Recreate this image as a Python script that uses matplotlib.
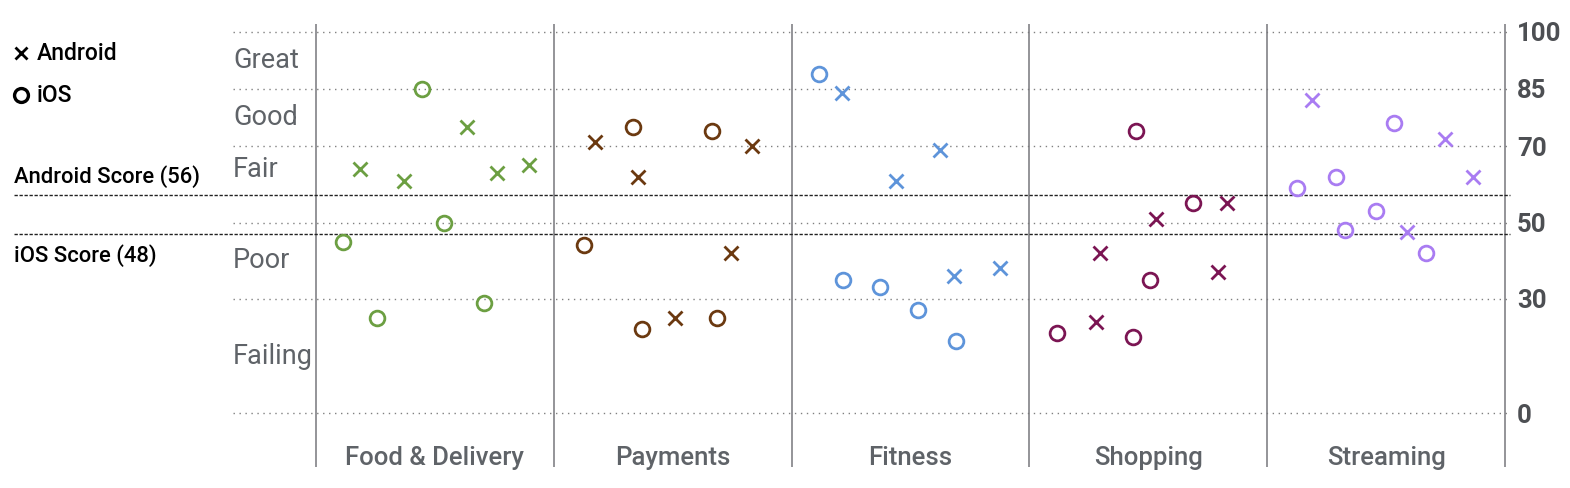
import matplotlib
matplotlib.use("Agg")
import matplotlib.pyplot as plt

plt.rcParams['font.family'] = ['Roboto', 'DejaVu Sans']

categories = ["Food & Delivery", "Payments", "Fitness", "Shopping", "Streaming"]
colors = ["#6c9f42", "#6b3910", "#5e94da", "#7b1553", "#a97cf2"]

# per category: platform, score, and horizontal slot inside the column (0..1)
food_platform = ["iOS", "Android", "iOS", "Android", "iOS", "iOS", "Android", "iOS", "Android", "Android"]
food_score = [45, 64, 25, 61, 85, 50, 75, 29, 63, 65]
food_slot = [0.112, 0.185, 0.257, 0.371, 0.446, 0.538, 0.635, 0.705, 0.760, 0.897]

pay_platform = ["iOS", "Android", "iOS", "Android", "iOS", "Android", "iOS", "iOS", "Android", "Android"]
pay_score = [44, 71, 75, 62, 22, 25, 74, 25, 42, 70]
pay_slot = [0.126, 0.175, 0.335, 0.355, 0.372, 0.509, 0.667, 0.688, 0.746, 0.834]

fit_platform = ["iOS", "Android", "iOS", "iOS", "Android", "iOS", "Android", "Android", "iOS", "Android"]
fit_score = [89, 84, 35, 33, 61, 27, 69, 36, 19, 38]
fit_slot = [0.115, 0.214, 0.217, 0.371, 0.437, 0.533, 0.624, 0.685, 0.693, 0.875]

shop_platform = ["iOS", "Android", "Android", "iOS", "iOS", "iOS", "Android", "iOS", "Android", "Android"]
shop_score = [21, 24, 42, 20, 74, 35, 51, 55, 37, 55]
shop_slot = [0.116, 0.278, 0.297, 0.436, 0.449, 0.509, 0.531, 0.687, 0.792, 0.833]

stream_platform = ["iOS", "Android", "iOS", "iOS", "iOS", "iOS", "Android", "iOS", "Android", "Android"]
stream_score = [59, 82, 62, 48, 53, 76, 47.5, 42, 72, 62]
stream_slot = [0.126, 0.189, 0.289, 0.327, 0.456, 0.532, 0.589, 0.669, 0.747, 0.866]

platforms = [food_platform, pay_platform, fit_platform, shop_platform, stream_platform]
scores = [food_score, pay_score, fit_score, shop_score, stream_score]
slots = [food_slot, pay_slot, fit_slot, shop_slot, stream_slot]

# overall scores shown in the labels, and where their lines sit on the axis
android_score = 56
ios_score = 48
android_line = 57.2
ios_line = 46.9

yticks = [0, 30, 50, 70, 85, 100]
band_names = ["Great", "Good", "Fair", "Poor", "Failing"]
band_mid = [92.5, 77.5, 64, 40, 15]

W, H = 1570, 488
def fx(px):
    return px / W
def fy(py):
    return 1 - py / H

fig = plt.figure(figsize=(W / 100, H / 100), dpi=100)
ax = fig.add_axes([fx(233), fy(470), fx(1510) - fx(233), fy(20) - fy(470)])
ax.set_xlim(-0.349, 5.021)
ax.set_ylim(-14.86, 103.07)
for s in ax.spines.values():
    s.set_visible(False)
ax.set_xticks([])

grey = "#5f6368"
ax.yaxis.tick_right()
ax.set_yticks(yticks)
ax.set_yticklabels([str(t) for t in yticks])
ax.tick_params(axis="y", length=0, pad=5, labelsize=18.5, labelcolor="#4d4f53")
for lab in ax.get_yticklabels():
    lab.set_fontweight("bold")
for t in yticks:
    ax.axhline(t, color="#808080", lw=1.0, ls=(0, (1, 3.3)), zorder=1)

# column separators
ax.vlines(range(len(categories) + 1), -14.1, 102.1, color="#77777c", lw=1.1, clip_on=False, zorder=1)

# score lines, reaching out to the legend area
xl = (14 - 316) / 237.8
for v in [android_line, ios_line]:
    ax.plot([xl, 5.021], [v, v], color="#222222", lw=1.0, ls=(0, (2.4, 1.2)), clip_on=False, zorder=2)

for i, cat in enumerate(categories):
    for p, v, s in zip(platforms[i], scores[i], slots[i]):
        if p == "Android":
            ax.plot(i + s, v, marker="x", ms=9.8, mew=2.0, color=colors[i], ls="none", zorder=3)
        else:
            ax.plot(i + s, v, marker="o", ms=10.6, mew=2.0, mfc="none", mec=colors[i], ls="none", zorder=3)
    ax.text(i + 0.5, -11.7, cat, ha="center", va="center", fontsize=18.5, color=grey, fontweight="medium")

for name, m in zip(band_names, band_mid):
    ax.text(-0.349, m, name, ha="left", va="center", fontsize=19.5, color=grey)

# legend and score labels
ax.plot([fx(21)], [fy(53)], marker="x", ms=9, mew=2.0, color="black", transform=fig.transFigure, clip_on=False)
ax.plot([fx(21)], [fy(95)], marker="o", ms=10, mew=2.4, mfc="none", mec="black", transform=fig.transFigure, clip_on=False)
fig.text(fx(37), fy(53), "Android", ha="left", va="center", fontsize=16.5, fontweight="medium", color="black")
fig.text(fx(37), fy(95), "iOS", ha="left", va="center", fontsize=16.5, fontweight="medium", color="black")
fig.text(fx(14), fy(177), f"Android Score ({android_score})", ha="left", va="center", fontsize=15.8, fontweight="medium", color="black")
fig.text(fx(14), fy(256), f"iOS Score ({ios_score})", ha="left", va="center", fontsize=15.8, fontweight="medium", color="black")

fig.savefig("out.png", dpi=100)
